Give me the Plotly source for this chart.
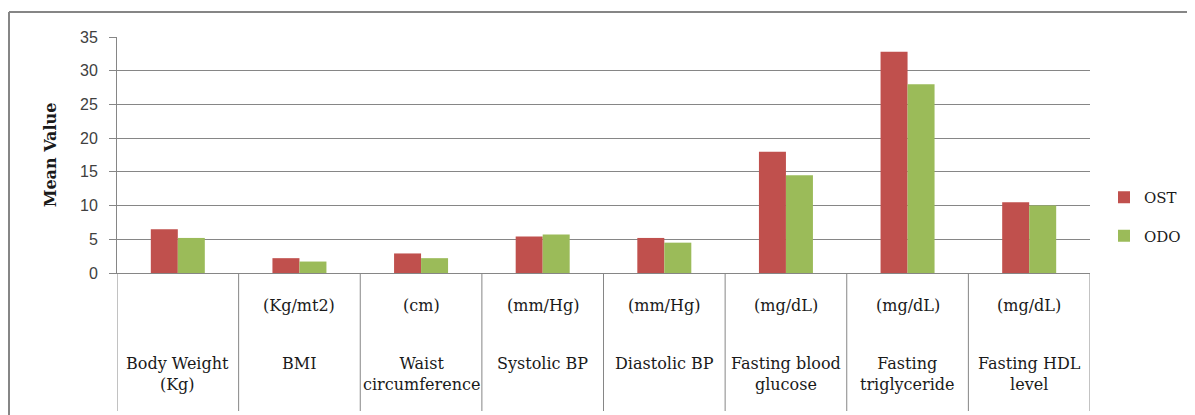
import plotly.graph_objects as go

categories = ["Body Weight", "BMI", "Waist circumference", "Systolic BP",
              "Diastolic BP", "Fasting blood glucose", "Fasting triglyceride",
              "Fasting HDL level"]
category_labels = ["Body Weight<br>(Kg)", "BMI", "Waist<br>circumference", "Systolic BP",
                   "Diastolic BP", "Fasting blood<br>glucose", "Fasting<br>triglyceride",
                   "Fasting HDL<br>level"]
units = ["", "(Kg/mt2)", "(cm)", "(mm/Hg)", "(mm/Hg)", "(mg/dL)", "(mg/dL)", "(mg/dL)"]
ost = [6.5, 2.2, 2.9, 5.4, 5.2, 18.0, 32.8, 10.5]
odo = [5.2, 1.7, 2.2, 5.7, 4.5, 14.5, 28.0, 10.0]
y_ticks = [0, 5, 10, 15, 20, 25, 30, 35]

OFF = 8  # page body margin
W, H = 1195 - OFF, 415 - OFF
L, R, T, B = 117 - OFF, 105, 37 - OFF, 142

grid = "#868686"
serif = "DejaVu Serif"

fig = go.Figure()
fig.add_trace(go.Bar(name="OST", x=categories, y=ost, marker=dict(color="#C0504D", line=dict(width=0)),
                     legendgroup="a"))
fig.add_trace(go.Bar(name="ODO", x=categories, y=odo, marker=dict(color="#9BBB59", line=dict(width=0)),
                     legendgroup="b"))

ph = H - T - B
pw = W - L - R

def py(p):
    return (H - B - (p - OFF)) / ph

def px(p):
    return ((p - OFF) - L) / pw

shapes = []
for i in range(len(categories) + 1):
    shapes.append(dict(type="line", xref="x", yref="paper", x0=i - 0.5, x1=i - 0.5,
                       y0=0, y1=py(411), line=dict(color=grid, width=1)))
shapes.append(dict(type="line", xref="paper", yref="paper", x0=px(9), x1=1.2,
                   y0=py(12), y1=py(12), line=dict(color=grid, width=2)))
shapes.append(dict(type="line", xref="paper", yref="paper", x0=px(9), x1=px(9),
                   y0=py(12), y1=py(430), line=dict(color=grid, width=2)))

annotations = []
for c, u, lab in zip(categories, units, category_labels):
    if u:
        annotations.append(dict(x=c, xref="x", y=py(305), yref="paper", text=u, showarrow=False,
                                yanchor="middle", font=dict(family=serif, size=16, color="#1a1a1a")))
    annotations.append(dict(x=c, xref="x", y=py(352), yref="paper", text=lab, showarrow=False,
                            yanchor="top", align="center",
                            font=dict(family=serif, size=16, color="#1a1a1a")))

fig.update_layout(
    width=W, height=H,
    margin=dict(l=L, r=R, t=T, b=B, autoexpand=False),
    paper_bgcolor="white", plot_bgcolor="white",
    barmode="group", bargap=0.556, bargroupgap=0,
    showlegend=True,
    legend=dict(x=px(1104), xanchor="left", y=py(181), yanchor="top",
                font=dict(family=serif, size=15, color="#1a1a1a"),
                tracegroupgap=16, bgcolor="rgba(0,0,0,0)", itemwidth=30),
    xaxis=dict(type="category", showticklabels=False, showline=True, linecolor=grid,
               linewidth=1, ticks="", showgrid=False, range=[-0.5, len(categories) - 0.5]),
    yaxis=dict(range=[0, 35], tickvals=y_ticks, showgrid=True, gridcolor=grid, gridwidth=1,
               showline=True, linecolor=grid, ticks="outside", ticklen=7, tickcolor=grid,
               zeroline=False, ticklabelstandoff=8,
               tickfont=dict(family="Liberation Sans", size=16, color="#404040"),
               title=dict(text="<b>Mean Value</b>", font=dict(family=serif, size=16, color="#1a1a1a"),
                          standoff=19)),
    shapes=shapes,
    annotations=annotations,
)

fig.write_html("out.html")
